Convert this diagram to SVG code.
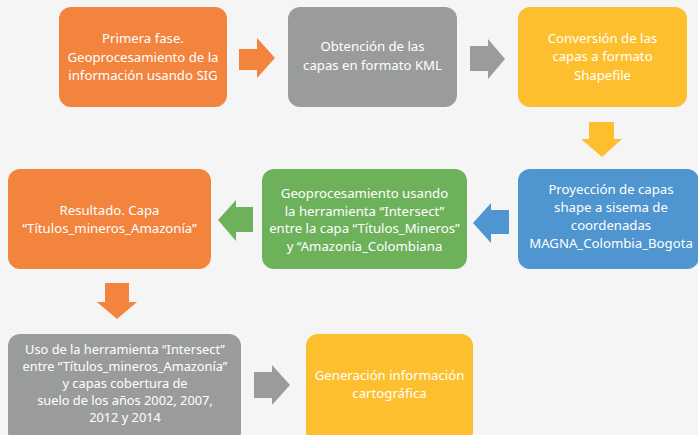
<svg xmlns="http://www.w3.org/2000/svg" width="698" height="435" viewBox="0 0 698 435">
<style>
.t{font-family:"Noto Sans","Open Sans","DejaVu Sans",sans-serif;font-size:13.2px;fill:#ffffff;text-anchor:middle}
.s{font-size:12.8px}
.or{fill:#F3843D}.gr{fill:#9A9C9C}.ye{fill:#FDBF2D}.gn{fill:#6DB25A}.bl{fill:#4F95D0}
</style>
<rect x="0" y="0" width="698" height="435" fill="#f5f5f5"/>
<g id="n1"><rect class="or" x="59" y="7" width="168" height="100" rx="12"/>
<text class="t"><tspan x="143" y="43">Primera fase.</tspan><tspan x="143" y="61.5">Geoprocesamiento de la</tspan><tspan x="143" y="80">información usando SIG</tspan></text></g>
<g id="n2"><rect class="gr" x="288" y="7" width="169" height="100" rx="12"/>
<text class="t"><tspan x="372.5" y="51">Obtención de las</tspan><tspan x="372.5" y="69.5">capas en formato KML</tspan></text></g>
<g id="n3"><rect class="ye" x="518" y="7" width="169" height="100" rx="12"/>
<text class="t"><tspan x="602.5" y="42.5">Conversión de las</tspan><tspan x="602.5" y="61">capas a formato</tspan><tspan x="602.5" y="79.5">Shapefile</tspan></text></g>
<g id="n4"><rect class="or" x="8" y="169" width="203" height="100" rx="12"/>
<text class="t"><tspan x="109.5" y="214.5">Resultado. Capa</tspan><tspan x="109.5" y="232.5">“Títulos_mineros_Amazonía”</tspan></text></g>
<g id="n5"><rect class="gn" x="262" y="169" width="205" height="100" rx="12"/>
<text class="t"><tspan x="364.5" y="197.5">Geoprocesamiento usando</tspan><tspan x="364.5" y="215.5">la herramienta “Intersect”</tspan><tspan x="364.5" y="233">entre la capa “Títulos_Mineros”</tspan><tspan x="364.5" y="250.5">y “Amazonía_Colombiana</tspan></text></g>
<g id="n6"><rect class="bl" x="518" y="169" width="181" height="100" rx="12"/>
<text class="t"><tspan x="611" y="193.5">Proyección de capas</tspan><tspan x="611" y="211.5">shape a sisema de</tspan><tspan x="611" y="229.5">coordenadas</tspan><tspan x="611" y="247.5">MAGNA_Colombia_Bogota</tspan></text></g>
<g id="n7"><rect class="gr" x="8" y="334" width="233" height="110" rx="12"/>
<text class="t s"><tspan x="125" y="354">Uso de la herramienta “Intersect”</tspan><tspan x="125" y="371">entre “Títulos_mineros_Amazonía”</tspan><tspan x="125" y="388">y capas cobertura de</tspan><tspan x="125" y="405">suelo de los años 2002, 2007,</tspan><tspan x="125" y="422">2012 y 2014</tspan></text></g>
<g id="n8"><rect class="ye" x="306" y="334" width="167" height="110" rx="12"/>
<text class="t"><tspan x="389.5" y="379.5">Generación información</tspan><tspan x="389.5" y="397.5">cartográfica</tspan></text></g>
<g id="connectors">
<polygon class="or" points="239,49 257,49 257,38 275,58 257,78 257,70 239,70"/>
<polygon class="gr" points="470,46 488,46 488,39 505,59 488,79 488,71 470,71"/>
<polygon class="ye" points="589,122 614,122 614,139 622,139 602,157 581,139 589,139"/>
<polygon class="bl" points="509,210 491,210 491,203 473,223 491,243 491,234 509,234"/>
<polygon class="gn" points="253,207 236,207 236,200 218,220 236,241 236,232 253,232"/>
<polygon class="or" points="105,283 129,283 129,302 137,302 117,319 97,302 105,302"/>
<polygon class="gr" points="254,372 272,372 272,365 290,385 272,405 272,398 254,398"/>
</g>
</svg>
